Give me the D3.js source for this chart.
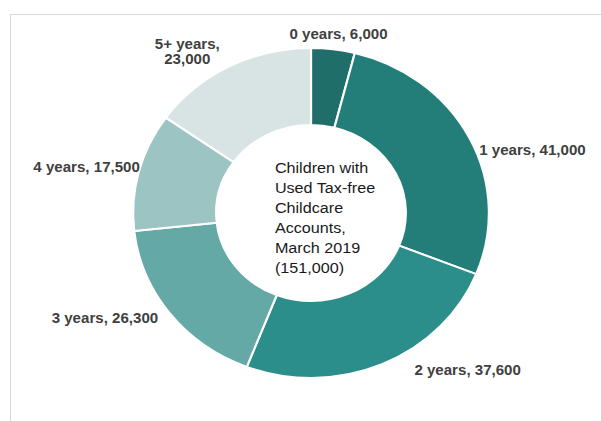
<!DOCTYPE html>
<html>
<head>
<meta charset="utf-8">
<script src="https://cdn.jsdelivr.net/npm/d3@7"></script>
<style>
  html, body { margin: 0; padding: 0; background: #ffffff; }
  svg { display: block; font-family: "Liberation Sans", Arial, sans-serif; }
</style>
</head>
<body>
<svg id="chart" width="601" height="421"></svg>
<script>
// ---- data ----
const categories = ["0 years", "1 years", "2 years", "3 years", "4 years", "5+ years"];
const values = [6000, 41000, 37600, 26300, 17500, 23000];
const centerLines = ["Children with", "Used Tax-free", "Childcare", "Accounts,", "March 2019", "(151,000)"];

// ---- styling / layout ----
const colors = ["#1f6e6a", "#237e7a", "#2c8e8a", "#65a9a6", "#9cc4c2", "#d8e4e4"];
const labelAnchors = ["middle", "start", "start", "end", "end", "middle"];
const labelNudge = [[5, -10], [9, 17], [30, 11], [-11, 9], [1, 0], [-39, -17]];
const stretchX = 1.078;
const cx = 288.5, cy = 213, rOuter = 165, rInner = 88;

const svg = d3.select("#chart");
svg.append("rect").attr("width", 601).attr("height", 421).attr("fill", "#fff");
svg.append("rect")
  .attr("x", 10.5).attr("y", 14.5).attr("width", 640).attr("height", 460)
  .attr("fill", "none").attr("stroke", "#d9d9d9").attr("stroke-width", 1);

const g = svg.append("g").attr("transform", `scale(${stretchX},1)`);
const pg = g.append("g").attr("transform", `translate(${cx},${cy})`);

const data = categories.map((c, i) => ({ cat: c, value: values[i], i }));
const pie = d3.pie().value(d => d.value).sort(null);
const arcs = pie(data);
const arc = d3.arc().innerRadius(rInner).outerRadius(rOuter);

pg.selectAll("path.slice").data(arcs).join("path")
  .attr("class", "slice")
  .attr("d", arc)
  .attr("fill", d => colors[d.data.i])
  .attr("stroke", "#ffffff")
  .attr("stroke-width", 2)
  .attr("stroke-linejoin", "round");

const fmt = d3.format(",");
const edgeArc = d3.arc().innerRadius(rOuter).outerRadius(rOuter);

arcs.forEach(d => {
  const a = (d.startAngle + d.endAngle) / 2;
  const px = rOuter * Math.sin(a) + labelNudge[d.data.i][0];
  const py = -rOuter * Math.cos(a) + labelNudge[d.data.i][1];
  const t = pg.append("text")
    .attr("x", px).attr("y", py)
    .attr("text-anchor", labelAnchors[d.data.i])
    .attr("font-size", 14).attr("font-weight", "bold")
    .attr("fill", "#404040");
  if (d.data.cat === "5+ years") {
    t.append("tspan").attr("x", px).attr("dy", 0).text(d.data.cat + ",");
    t.append("tspan").attr("x", px).attr("dy", 15).text(fmt(d.data.value));
  } else {
    t.text(d.data.cat + ", " + fmt(d.data.value));
  }
});

const ct = g.append("text")
  .attr("x", 255).attr("y", 173)
  .attr("font-size", 15).attr("fill", "#1a1a1a");
centerLines.forEach((l, i) => {
  ct.append("tspan").attr("x", 255).attr("dy", i === 0 ? 0 : 20).text(l);
});
</script>
</body>
</html>
